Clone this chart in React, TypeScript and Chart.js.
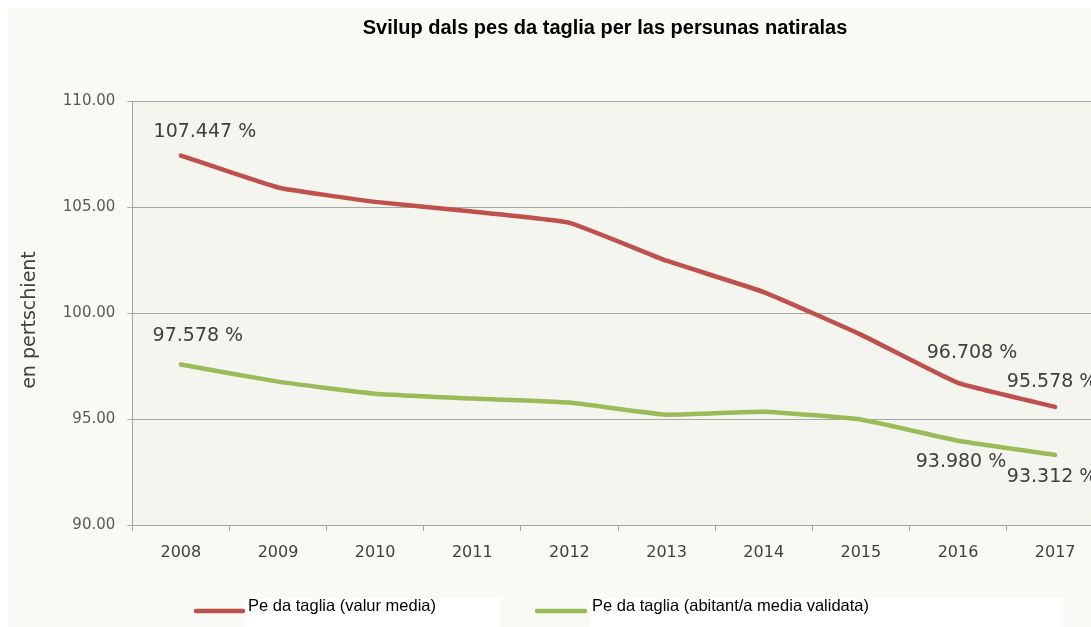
import React, { useEffect, useRef } from "react";
import { Chart, registerables } from "chart.js";

Chart.register(...registerables);

const years = ["2008", "2009", "2010", "2011", "2012", "2013", "2014", "2015", "2016", "2017"];
const valurMedia = [107.447, 105.94, 105.26, 104.8, 104.27, 102.48, 101.0, 98.99, 96.708, 95.578];
const abitantMedia = [97.578, 96.77, 96.2, 95.97, 95.78, 95.21, 95.35, 94.98, 93.98, 93.312];
const labelledIndices = [0, 8, 9];
const seriesNames = ["Pe da taglia (valur media)", "Pe da taglia (abitant/a media validata)"];
const chartTitle = "Svilup dals pes da taglia per las persunas natiralas";
const yAxisTitle = "en pertschient";
const yMin = 90;
const yMax = 110;
const yStep = 5;

const COLORS = ["#c0504d", "#9bbb59"];
// label offsets (dx, dy) relative to point, per series, per labelled index
const LABEL_OFFSETS = [
  [[24, -23], [14, -30], [-3, -25]],
  [[17, -28], [3, 21], [-3, 22]],
];

const W = 1110;
const H = 619;

const decorPlugin = {
  id: "decor",
  beforeDraw(chart: any) {
    const { ctx, chartArea } = chart;
    ctx.save();
    ctx.fillStyle = "#f9f9f5";
    ctx.fillRect(0, 0, chart.width, chart.height);
    ctx.fillStyle = "#f3f5ee";
    ctx.fillRect(chartArea.left, chartArea.top, chartArea.right - chartArea.left, chartArea.bottom - chartArea.top);
    ctx.restore();
  },
  afterDraw(chart: any) {
    const { ctx } = chart;
    ctx.save();
    // title
    ctx.fillStyle = "#000000";
    ctx.font = "bold 20px 'Liberation Sans'";
    ctx.textAlign = "center";
    ctx.textBaseline = "middle";
    ctx.fillText(chartTitle, 597, 20);

    // y axis title
    ctx.save();
    ctx.translate(22, 312);
    ctx.rotate(-Math.PI / 2);
    ctx.fillStyle = "#404040";
    ctx.font = "19px 'DejaVu Sans'";
    ctx.fillText(yAxisTitle, 0, 0);
    ctx.restore();

    // data labels
    ctx.fillStyle = "#404040";
    ctx.font = "19px 'DejaVu Sans'";
    ctx.textAlign = "center";
    ctx.textBaseline = "middle";
    chart.data.datasets.forEach((ds: any, d: number) => {
      const meta = chart.getDatasetMeta(d);
      labelledIndices.forEach((idx, k) => {
        const el = meta.data[idx];
        const [dx, dy] = LABEL_OFFSETS[d][k];
        ctx.fillText(ds.data[idx].toFixed(3) + " %", el.x + dx, el.y + dy);
      });
    });

    // legend
    const legendItems = [
      { lx0: 188, lx1: 235, bx0: 237, bx1: 493, tx: 240 },
      { lx0: 529, lx1: 577, bx0: 582, bx1: 1055, tx: 584 },
    ];
    legendItems.forEach((it, i) => {
      ctx.fillStyle = "#ffffff";
      ctx.fillRect(it.bx0, 590, it.bx1 - it.bx0, 40);
      ctx.strokeStyle = COLORS[i];
      ctx.lineWidth = 4.5;
      ctx.lineCap = "round";
      ctx.beginPath();
      ctx.moveTo(it.lx0, 603);
      ctx.lineTo(it.lx1, 603);
      ctx.stroke();
      ctx.fillStyle = "#000000";
      ctx.font = "16.5px 'Liberation Sans'";
      ctx.textAlign = "left";
      ctx.textBaseline = "middle";
      ctx.fillText(seriesNames[i], it.tx, 598);
    });
    ctx.restore();
  },
};

export default function App() {
  const ref = useRef<HTMLCanvasElement>(null);
  useEffect(() => {
    document.body.style.overflow = "hidden";
    const chart = new Chart(ref.current as HTMLCanvasElement, {
      type: "line",
      data: {
        labels: years,
        datasets: [
          {
            label: seriesNames[0],
            data: valurMedia,
            borderColor: COLORS[0],
            borderWidth: 4.5,
            pointRadius: 0,
            tension: 0.12,
            borderCapStyle: "round",
            borderJoinStyle: "round",
            fill: false,
          },
          {
            label: seriesNames[1],
            data: abitantMedia,
            borderColor: COLORS[1],
            borderWidth: 4.5,
            pointRadius: 0,
            tension: 0.12,
            borderCapStyle: "round",
            borderJoinStyle: "round",
            fill: false,
          },
        ],
      },
      options: {
        responsive: false,
        animation: false,
        devicePixelRatio: 1,
        layout: { padding: { top: 93.5, right: 14.3, bottom: 62, left: 0 } },
        plugins: {
          legend: { display: false },
          title: { display: false },
          tooltip: { enabled: false },
        },
        scales: {
          x: {
            type: "category",
            offset: true,
            afterFit: (s: any) => {
              s.height = 40;
            },
            grid: { drawOnChartArea: false, offset: true, tickLength: 6, color: "#a6a6a6" },
            border: { color: "#a6a6a6" },
            ticks: { font: { family: "DejaVu Sans", size: 16 }, color: "#404040", padding: 12 },
          },
          y: {
            min: yMin,
            max: yMax,
            afterFit: (s: any) => {
              s.width = 124.3;
            },
            grid: { color: "#a6a6a6", tickLength: 5 },
            border: { color: "#a6a6a6" },
            ticks: {
              stepSize: yStep,
              font: { family: "DejaVu Sans", size: 15 },
              color: "#595959",
              padding: 12,
              callback: (v: any) => Number(v).toFixed(2),
            },
          },
        },
      },
      plugins: [decorPlugin],
    } as any);
    return () => chart.destroy();
  }, []);
  return (
    <div style={{ position: "fixed", left: 8, top: 8, right: 0, bottom: 0, overflow: "hidden" }}>
      <canvas ref={ref} width={W} height={H} style={{ position: "absolute", left: 0, top: 0, width: W, height: H }} />
    </div>
  );
}
